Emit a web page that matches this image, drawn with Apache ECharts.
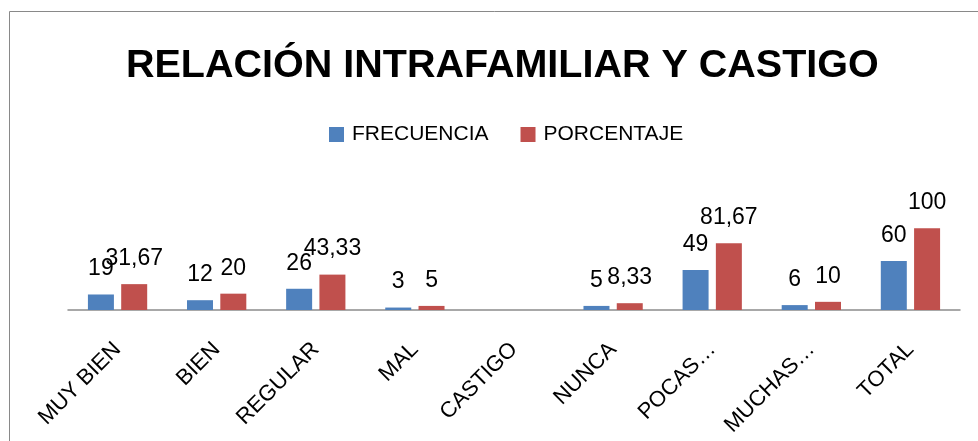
<!DOCTYPE html>
<html>
<head>
<meta charset="utf-8">
<title>Relación intrafamiliar y castigo</title>
<script src="https://cdn.jsdelivr.net/npm/echarts@6/dist/echarts.min.js"></script>
<style>
    html, body { margin: 0; padding: 0; background: #fff; }
    #chart { width: 978px; height: 441px; }
</style>
</head>
<body>
<div id="chart"></div>
<script>
var categories = ['MUY BIEN', 'BIEN', 'REGULAR', 'MAL', 'CASTIGO', 'NUNCA', 'POCAS…', 'MUCHAS…', 'TOTAL'];
var frecuencia = [19, 12, 26, 3, null, 5, 49, 6, 60];
var porcentaje = [31.67, 20, 43.33, 5, null, 8.33, 81.67, 10, 100];

var font = 'Liberation Sans';

function coma (p) {
    return String(p.value).replace('.', ',');
}

var myChart = echarts.init(document.getElementById('chart'));
myChart.setOption({
    animation: false,
    title: {
        text: 'RELACIÓN INTRAFAMILIAR Y CASTIGO',
        left: 126,
        top: 46,
        padding: 0,
        textStyle: {
            color: '#000',
            fontSize: 39.5,
            fontWeight: 'bold',
            fontFamily: font
        }
    },
    legend: {
        left: 329,
        top: 124,
        padding: 0,
        itemWidth: 15,
        itemHeight: 15,
        itemGap: 32,
        icon: 'rect',
        textStyle: {
            color: '#000',
            fontSize: 21,
            fontFamily: font,
            padding: [0, 0, 0, 3]
        },
        data: ['FRECUENCIA', 'PORCENTAJE']
    },
    graphic: [{
        type: 'rect',
        shape: { x: 9.5, y: 11.5, width: 1000, height: 500 },
        style: { fill: 'none', stroke: '#898989', lineWidth: 1 },
        silent: true
    }],
    grid: {
        left: 68,
        right: 18,
        top: 212,
        bottom: 131
    },
    xAxis: {
        type: 'category',
        data: categories,
        axisLine: {
            lineStyle: {
                color: '#8c8c8c',
                width: 1.5
            }
        },
        axisTick: {
            show: false
        },
        axisLabel: {
            interval: 0,
            rotate: 45,
            margin: 36,
            verticalAlign: 'middle',
            color: '#000',
            fontSize: 22,
            fontFamily: font
        }
    },
    yAxis: {
        type: 'value',
        min: 0,
        max: 120,
        show: false,
        splitLine: {
            show: false
        }
    },
    series: [{
        name: 'FRECUENCIA',
        type: 'bar',
        barWidth: 26,
        barGap: '28%',
        itemStyle: {
            color: '#4F81BD'
        },
        label: {
            show: true,
            position: 'top',
            distance: 14,
            color: '#000',
            fontSize: 23,
            fontFamily: font,
            formatter: coma
        },
        data: frecuencia
    }, {
        name: 'PORCENTAJE',
        type: 'bar',
        barWidth: 26,
        itemStyle: {
            color: '#C0504D'
        },
        label: {
            show: true,
            position: 'top',
            distance: 14,
            color: '#000',
            fontSize: 23,
            fontFamily: font,
            formatter: coma
        },
        data: porcentaje
    }]
});
</script>
</body>
</html>
